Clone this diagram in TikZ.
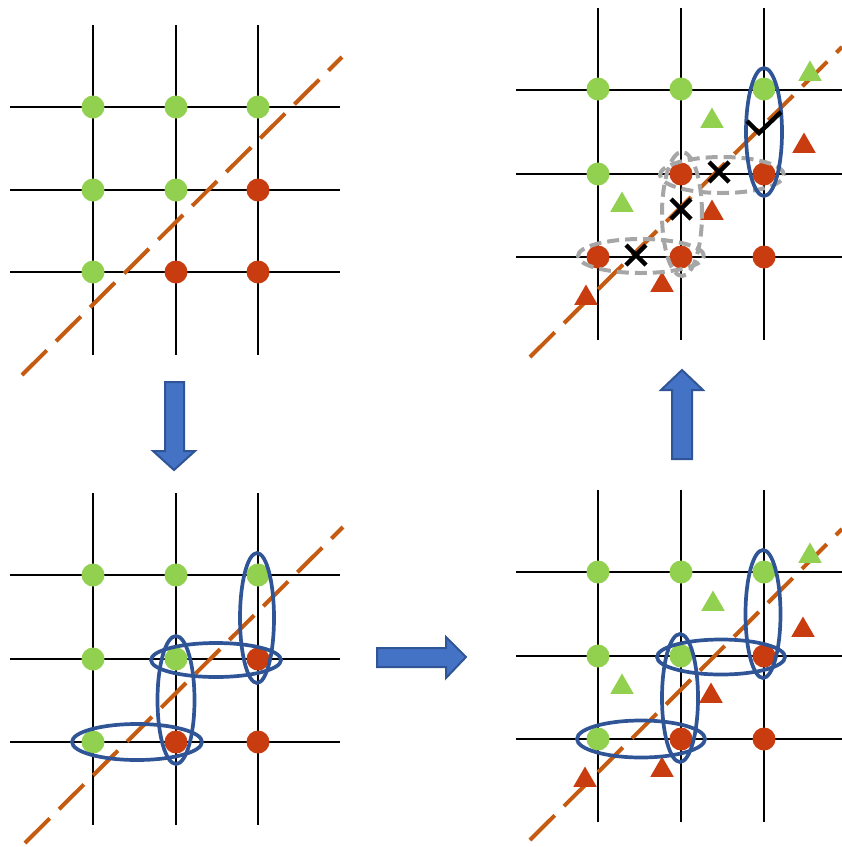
\documentclass[tikz,border=0pt]{standalone}
\usetikzlibrary{shapes.geometric}
\definecolor{gr}{HTML}{92D050}
\definecolor{rd}{RGB}{200,60,16}
\definecolor{org}{HTML}{C55A11}
\definecolor{bl}{HTML}{2F5597}
\definecolor{afill}{HTML}{4472C4}
\definecolor{gy}{HTML}{A6A6A6}
\begin{document}
\begin{tikzpicture}[x=1pt,y=-1pt,
  gline/.style={black,line width=2.2pt},
  diag/.style={org,line width=4pt,dash pattern=on 35pt off 13pt},
  gdot/.style={circle,fill=gr,minimum size=23pt,inner sep=0pt},
  rdot/.style={circle,fill=rd,minimum size=23pt,inner sep=0pt},
  gtri/.style={regular polygon,regular polygon sides=3,fill=gr,minimum size=27pt,inner sep=0pt},
  rtri/.style={regular polygon,regular polygon sides=3,fill=rd,minimum size=27pt,inner sep=0pt},
  bloop/.style={ellipse,draw=bl,line width=3.7pt,inner sep=0pt},
  gloop/.style={ellipse,draw=gy,line width=4pt,dash pattern=on 12pt off 6pt,inner sep=0pt},
  crossmark/.style={black,line width=4.5pt},
  bigarrow/.style={fill=afill,draw=bl,line width=2pt,line join=miter}]
\useasboundingbox (0,0) rectangle (842,847);

% ---------- Panel 1 (top-left)
\foreach \x in {93,176,258} \draw[gline] (\x,25) -- (\x,355);
\foreach \y in {107,190,272} \draw[gline] (10,\y) -- (340,\y);
\coordinate (d1s) at (22,375); \coordinate (d1e) at (342,57);
\draw[diag] (d1s) -- (d1e);
\node[gdot] (a11) at (93,107) {};
\node[gdot] (a12) at (176,107) {};
\node[gdot] (a13) at (258,107) {};
\node[gdot] (a21) at (93,190) {};
\node[gdot] (a22) at (176,190) {};
\node[rdot] (a23) at (258,190) {};
\node[gdot] (a31) at (93,272) {};
\node[rdot] (a32) at (176,272) {};
\node[rdot] (a33) at (258,272) {};

% ---------- Panel 3 (bottom-left)
\foreach \x in {93,176,258} \draw[gline] (\x,493) -- (\x,825);
\foreach \y in {575,659,742} \draw[gline] (10,\y) -- (340,\y);
\coordinate (d3s) at (25,843); \coordinate (d3e) at (343,527);
\draw[diag] (d3s) -- (d3e);
\node[gdot] (c11) at (93,575) {};
\node[gdot] (c12) at (176,575) {};
\node[gdot] (c13) at (258,575) {};
\node[gdot] (c21) at (93,659) {};
\node[gdot] (c22) at (176,659) {};
\node[rdot] (c23) at (258,659) {};
\node[gdot] (c31) at (93,742) {};
\node[rdot] (c32) at (176,742) {};
\node[rdot] (c33) at (258,742) {};
\node[bloop,minimum width=34pt,minimum height=130pt] (ce1) at (257,618) {};
\node[bloop,minimum width=130pt,minimum height=34pt] (ce2) at (216,660) {};
\node[bloop,minimum width=37pt,minimum height=128pt] (ce3) at (176,700) {};
\node[bloop,minimum width=130pt,minimum height=36pt] (ce4) at (137,742) {};

% ---------- Panel 4 (bottom-right)
\foreach \x in {598,681,764} \draw[gline] (\x,490) -- (\x,822);
\foreach \y in {572,656,739} \draw[gline] (516,\y) -- (842,\y);
\coordinate (d4s) at (530,840); \coordinate (d4e) at (842,529);
\draw[diag] (d4s) -- (d4e);
\node[gdot] (e11) at (598,572) {};
\node[gdot] (e12) at (681,572) {};
\node[gdot] (e13) at (764,572) {};
\node[gdot] (e21) at (598,656) {};
\node[gdot] (e22) at (681,656) {};
\node[rdot] (e23) at (764,656) {};
\node[gdot] (e31) at (598,739) {};
\node[rdot] (e32) at (681,739) {};
\node[rdot] (e33) at (764,739) {};
\node[gtri] (et1) at (810,556) {};
\node[gtri] (et2) at (713,604) {};
\node[gtri] (et3) at (622,687) {};
\node[rtri] (et4) at (803,630) {};
\node[rtri] (et5) at (711,696) {};
\node[rtri] (et6) at (662,770) {};
\node[rtri] (et7) at (585,780) {};
\node[bloop,minimum width=35pt,minimum height=128pt] (ee1) at (763,614) {};
\node[bloop,minimum width=128pt,minimum height=35pt] (ee2) at (721,657) {};
\node[bloop,minimum width=36pt,minimum height=128pt] (ee3) at (680,698) {};
\node[bloop,minimum width=128pt,minimum height=37pt] (ee4) at (641,739) {};

% ---------- Panel 2 (top-right)
\foreach \x in {598,681,764} \draw[gline] (\x,8) -- (\x,340);
\foreach \y in {90,174,257} \draw[gline] (516,\y) -- (842,\y);
\coordinate (d2s) at (530,357); \coordinate (d2e) at (842,47);
\draw[diag] (d2s) -- (d2e);
\node[gdot] (b11) at (598,89) {};
\node[gdot] (b12) at (681,89) {};
\node[gdot] (b13) at (764,89) {};
\node[gdot] (b21) at (598,174) {};
\node[rdot] (b22) at (681,174) {};
\node[rdot] (b23) at (764,174) {};
\node[rdot] (b31) at (598,257) {};
\node[rdot] (b32) at (681,257) {};
\node[rdot] (b33) at (764,257) {};
\node[gtri] (bt1) at (810,74) {};
\node[gtri] (bt2) at (712,121) {};
\node[gtri] (bt3) at (622,205) {};
\node[rtri] (bt4) at (804,146) {};
\node[rtri] (bt5) at (712,213) {};
\node[rtri] (bt6) at (662,285) {};
\node[rtri] (bt7) at (586,298) {};
\node[gloop,minimum width=126pt,minimum height=34pt] (bg1) at (641,256) {};
\node[gloop,minimum width=40pt,minimum height=124pt] (bg2) at (682,214) {};
\node[gloop,minimum width=124pt,minimum height=36pt] (bg3) at (722,175) {};
\node[bloop,minimum width=36pt,minimum height=128pt] (be1) at (764,132) {};
% crosses
\coordinate (x1) at (636,255);
\coordinate (x2) at (681,209);
\coordinate (x3) at (719,172);
\foreach \c in {x1,x2,x3}
  \draw[crossmark] ([shift={(-10,-10)}]\c) -- ([shift={(10,10)}]\c)
                   ([shift={(-10,10)}]\c) -- ([shift={(10,-10)}]\c);
% check mark
\coordinate (k1) at (747,121); \coordinate (k2) at (759,133); \coordinate (k3) at (781,112);
\draw[crossmark] (k1) -- (k2) -- (k3);

% ---------- Block arrows
\draw[bigarrow] (165,382) -- (184,382) -- (184,451) -- (195,451) -- (174,470)
  -- (153,451) -- (165,451) -- cycle;
\draw[bigarrow] (377,648) -- (446,648) -- (446,637) -- (466,657) -- (446,678)
  -- (446,667) -- (377,667) -- cycle;
\draw[bigarrow] (672,459) -- (672,390) -- (661,390) -- (682,370) -- (703,390)
  -- (692,390) -- (692,459) -- cycle;
\end{tikzpicture}
\end{document}
